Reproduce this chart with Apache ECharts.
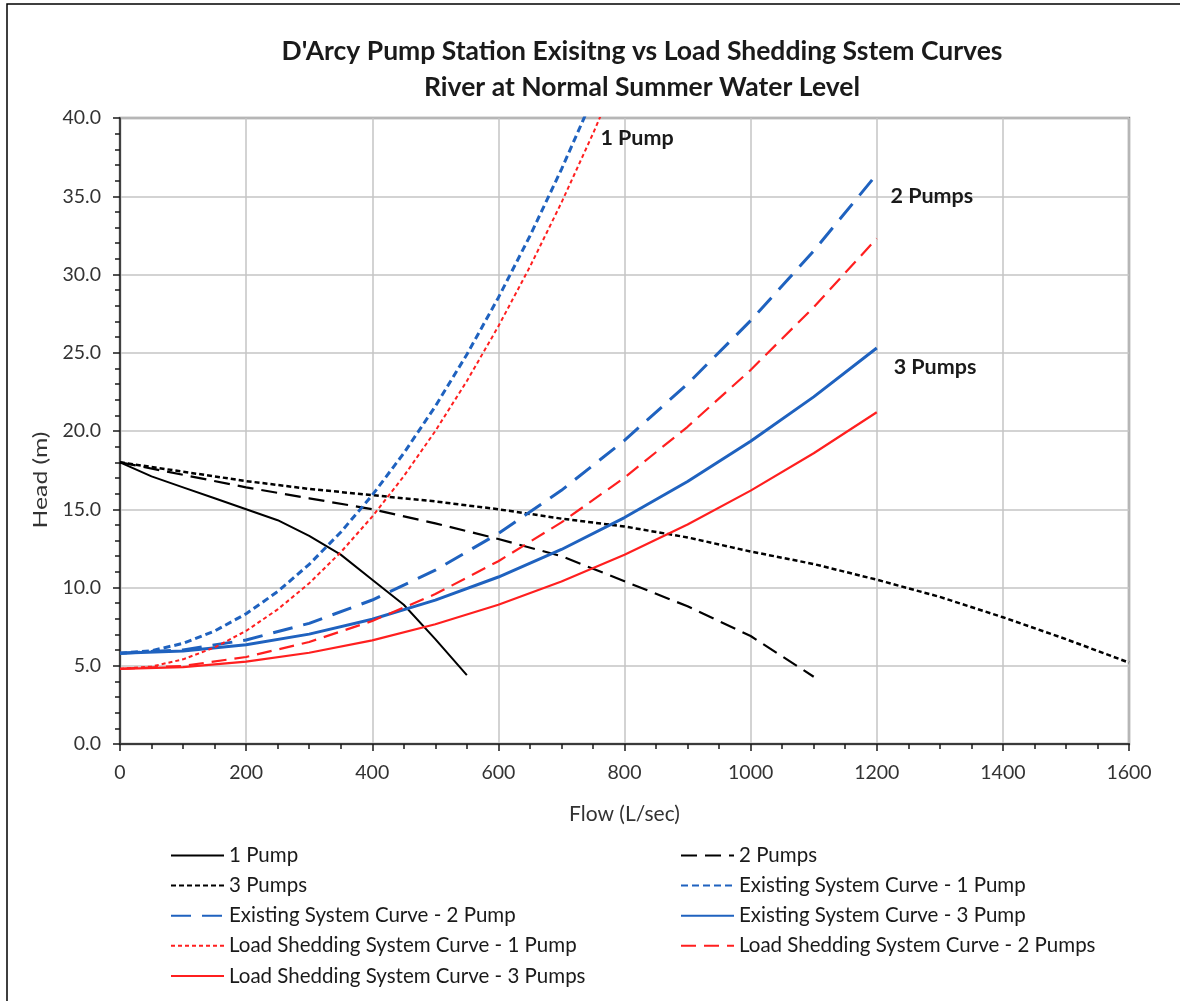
<!DOCTYPE html>
<html>
<head>
<meta charset="utf-8">
<script src="https://cdn.jsdelivr.net/npm/echarts@6/dist/echarts.min.js"></script>
<style>
html,body{margin:0;padding:0;background:#fff;}
#c{width:1180px;height:1001px;}
</style>
</head>
<body>
<div id="c"></div>
<script>
// ---- data ----
const titleLine1 = "D'Arcy Pump Station Exisitng vs Load Shedding Sstem Curves";
const titleLine2 = "River at Normal Summer Water Level";
const xName = "Flow (L/sec)";
const yName = "Head (m)";

const pump1Flow = [0, 50, 100, 150, 200, 250, 300, 350, 400, 450, 500, 550];
const pump1Head = [18.0, 17.1, 16.4, 15.7, 15.0, 14.3, 13.3, 12.1, 10.5, 8.9, 6.7, 4.4];

const pump2Flow = [0, 100, 200, 300, 400, 500, 600, 700, 800, 900, 1000, 1100];
const pump2Head = [18.0, 17.2, 16.4, 15.7, 15.0, 14.1, 13.1, 12.0, 10.4, 8.8, 6.9, 4.3];

const pump3Flow = [0, 100, 200, 300, 400, 500, 600, 700, 800, 900, 1000, 1100, 1200, 1300, 1400, 1500, 1600];
const pump3Head = [18.0, 17.4, 16.8, 16.3, 15.9, 15.5, 15.0, 14.4, 13.9, 13.2, 12.3, 11.5, 10.5, 9.4, 8.1, 6.7, 5.2];

const ex1Flow = [0, 50, 100, 150, 200, 250, 300, 350, 400, 450, 500, 550, 600, 650, 700, 750];
const ex1Head = [5.8, 5.96, 6.43, 7.22, 8.32, 9.74, 11.48, 13.53, 15.9, 18.58, 21.58, 24.89, 28.52, 32.46, 36.72, 41.29];

const ex2Flow = [0, 100, 200, 300, 400, 500, 600, 700, 800, 900, 1000, 1100, 1200];
const ex2Head = [5.8, 6.01, 6.65, 7.71, 9.2, 11.11, 13.45, 16.21, 19.4, 23.01, 27.05, 31.51, 36.4];

const ex3Flow = [0, 100, 200, 300, 400, 500, 600, 700, 800, 900, 1000, 1100, 1200];
const ex3Head = [5.8, 5.94, 6.34, 7.02, 7.97, 9.19, 10.67, 12.43, 14.47, 16.77, 19.34, 22.18, 25.3];

const ls1Flow = [0, 50, 100, 150, 200, 250, 300, 350, 400, 450, 500, 550, 600, 650, 700, 750, 800];
const ls1Head = [4.8, 4.95, 5.41, 6.17, 7.23, 8.6, 10.27, 12.25, 14.53, 17.11, 20.0, 23.19, 26.69, 30.49, 34.59, 39.0, 43.7];

const ls2Flow = [0, 100, 200, 300, 400, 500, 600, 700, 800, 900, 1000, 1100, 1200];
const ls2Head = [4.8, 4.99, 5.56, 6.52, 7.86, 9.58, 11.68, 14.16, 17.02, 20.27, 23.9, 27.91, 32.3];

const ls3Flow = [0, 100, 200, 300, 400, 500, 600, 700, 800, 900, 1000, 1100, 1200];
const ls3Head = [4.8, 4.91, 5.26, 5.83, 6.62, 7.65, 8.9, 10.38, 12.09, 14.03, 16.19, 18.58, 21.2];

const seriesNames = [
  "1 Pump", "2 Pumps", "3 Pumps",
  "Existing System Curve - 1 Pump", "Existing System Curve - 2 Pump", "Existing System Curve - 3 Pump",
  "Load Shedding System Curve - 1 Pump", "Load Shedding System Curve - 2 Pumps", "Load Shedding System Curve - 3 Pumps"
];
const annotTexts = ["1 Pump", "2 Pumps", "3 Pumps"];
const annotCoords = [[761, 38.7], [1221, 35.0], [1226, 24.1]];

// ---- chart ----
const zip = (xs, ys) => xs.map((x, i) => [x, ys[i]]);
const FONT = 'Lato';
const BLACK = '#000000';
const BLUE = '#1f62bf';
const RED = '#ff1f1f';

function lineSeries(name, xs, ys, color, width, dash) {
  return {
    name: name, type: 'line', data: zip(xs, ys),
    symbol: 'none', smooth: false, clip: true,
    lineStyle: { color: color, width: width, type: dash },
    itemStyle: { color: color },
    z: 3
  };
}

const series = [
  lineSeries(seriesNames[0], pump1Flow, pump1Head, BLACK, 2, 'solid'),
  lineSeries(seriesNames[1], pump2Flow, pump2Head, BLACK, 2.2, [16, 8]),
  lineSeries(seriesNames[2], pump3Flow, pump3Head, BLACK, 2.5, [5, 3]),
  lineSeries(seriesNames[3], ex1Flow, ex1Head, BLUE, 3, [7, 4]),
  lineSeries(seriesNames[4], ex2Flow, ex2Head, BLUE, 3, [20, 11]),
  lineSeries(seriesNames[5], ex3Flow, ex3Head, BLUE, 3, 'solid'),
  lineSeries(seriesNames[6], ls1Flow, ls1Head, RED, 2, [4, 3]),
  lineSeries(seriesNames[7], ls2Flow, ls2Head, RED, 2.2, [15, 8]),
  lineSeries(seriesNames[8], ls3Flow, ls3Head, RED, 2.2, 'solid')
];

series[0].markPoint = {
  symbol: 'circle', symbolSize: 1,
  itemStyle: { color: 'rgba(0,0,0,0)' },
  label: {
    show: true, position: 'right', distance: 0,
    fontFamily: FONT, fontWeight: 'bold', fontSize: 21.5, color: '#1a1a1a',
    formatter: p => p.name
  },
  data: annotTexts.map((t, i) => ({ name: t, coord: annotCoords[i] }))
};

const legendText = { fontFamily: FONT, fontSize: 20.5, color: '#1a1a1a', lineHeight: 20 };
const leftCol = [seriesNames[0], seriesNames[2], seriesNames[4], seriesNames[6], seriesNames[8]];
const rightCol = [seriesNames[1], seriesNames[3], seriesNames[5], seriesNames[7]];

function legendBlock(left, names) {
  return {
    orient: 'vertical', left: left, top: 845, height: 170,
    itemWidth: 53, itemHeight: 20, itemGap: 9.1,
    itemStyle: { opacity: 0 },
    data: names, textStyle: legendText, selectedMode: false, padding: 0
  };
}

const option = {
  backgroundColor: '#ffffff',
  animation: false,
  title: {
    text: titleLine1 + '\n' + titleLine2,
    left: 637, top: 28, textAlign: 'center',
    textStyle: { fontFamily: FONT, fontWeight: 'bold', fontSize: 26.5, color: '#1a1a1a', lineHeight: 36 }
  },
  grid: { left: 120, right: 51, top: 118, bottom: 257, show: true, borderColor: '#8c8c8c', borderWidth: 2.5, backgroundColor: 'transparent' },
  legend: [legendBlock(170, leftCol), legendBlock(680, rightCol)],
  xAxis: [{
    type: 'value', min: 0, max: 1600, interval: 200,
    name: xName, nameLocation: 'middle', nameGap: 60,
    nameTextStyle: { fontFamily: FONT, fontSize: 21, color: '#333' },
    axisLine: { show: true, onZero: false, lineStyle: { color: '#1a1a1a', width: 1.5 } },
    axisTick: { show: true, inside: false, length: 7, lineStyle: { color: '#1a1a1a', width: 1.5 } },
    minorTick: { show: true, splitNumber: 4, length: 5, lineStyle: { color: '#1a1a1a', width: 1.5 } },
    axisLabel: { fontFamily: FONT, fontSize: 19.5, color: '#333', margin: 19, formatter: v => String(v) },
    splitLine: { show: true, lineStyle: { color: '#c4c4c4', width: 1.5 } }
  }, {
    type: 'value', min: 0, max: 1600, interval: 200, position: 'top',
    axisLine: { show: true, lineStyle: { color: '#3a3a3a', width: 2 } },
    axisTick: { show: false }, axisLabel: { show: false }, splitLine: { show: false }
  }],
  yAxis: {
    type: 'value', min: 0, max: 40, interval: 5,
    axisLine: { show: true, onZero: false, lineStyle: { color: '#1a1a1a', width: 1.5 } },
    axisTick: { show: true, inside: false, length: 7, lineStyle: { color: '#1a1a1a', width: 1.5 } },
    minorTick: { show: true, splitNumber: 5, length: 5, lineStyle: { color: '#1a1a1a', width: 1.5 } },
    axisLabel: { fontFamily: FONT, fontSize: 19.5, color: '#333', margin: 19, formatter: v => v.toFixed(1) },
    splitLine: { show: true, lineStyle: { color: '#c4c4c4', width: 1.5 } }
  },
  graphic: [{
    type: 'rect', shape: { x: 7, y: 4, width: 1300, height: 1200 },
    style: { fill: 'none', stroke: '#000', lineWidth: 1.5 }, silent: true, z: 100
  }, {
    type: 'text', x: 41, y: 480, rotation: Math.PI / 2, scaleX: 1.3,
    style: { text: yName, fontFamily: FONT, fontSize: 19, fill: '#333', align: 'center', verticalAlign: 'middle' },
    silent: true
  }],
  series: series
};

const chart = echarts.init(document.getElementById('c'), null, { renderer: 'canvas' });
chart.setOption(option);
</script>
</body>
</html>
